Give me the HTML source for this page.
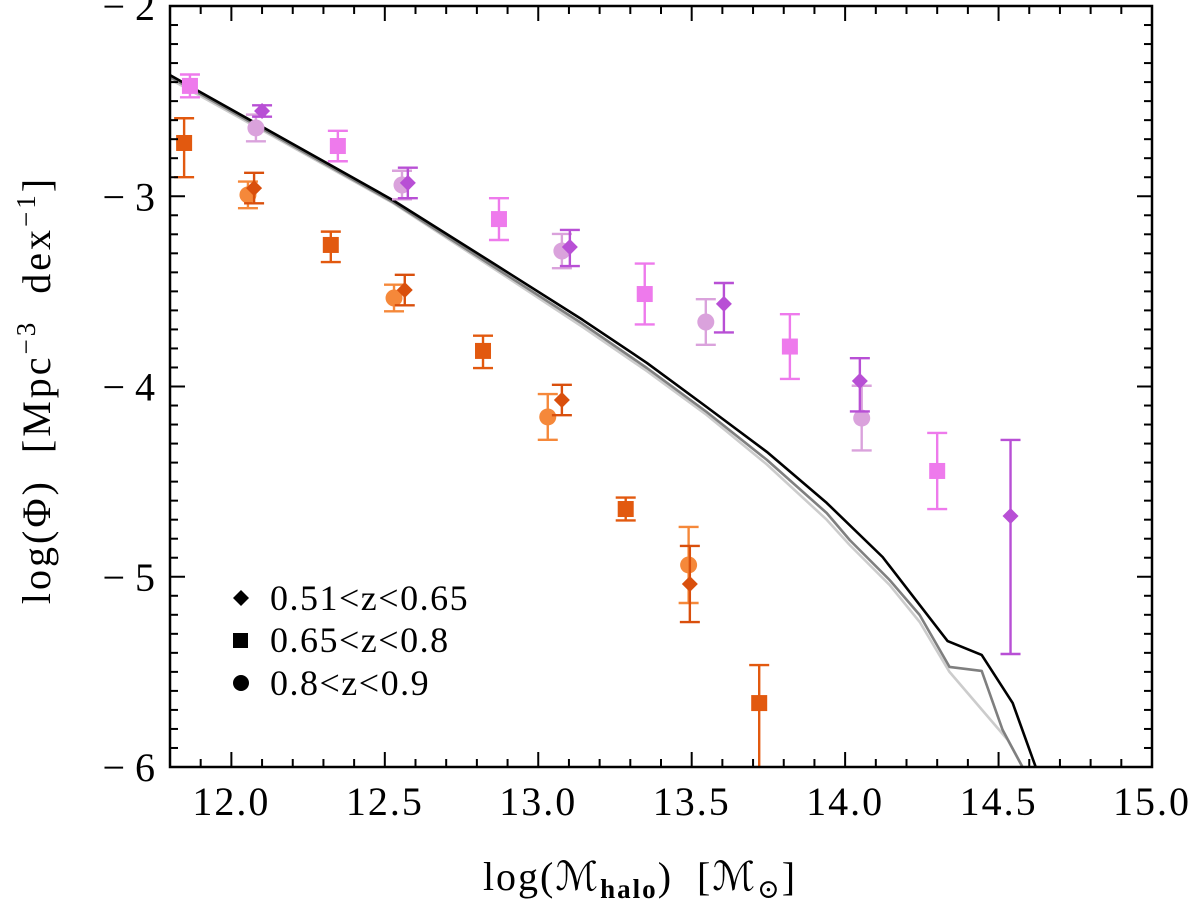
<!DOCTYPE html>
<html><head><meta charset="utf-8"><style>
html,body{margin:0;padding:0;background:#fff;}
svg{display:block;}
text{font-family:"Liberation Serif","DejaVu Serif",serif;fill:#000;}
</style></head><body>
<svg id="chart" width="1200" height="909" viewBox="0 0 1200 909" xmlns="http://www.w3.org/2000/svg">
<defs><clipPath id="plotclip"><rect x="170" y="6" width="980" height="761"/></clipPath></defs>
<g id="lines" clip-path="url(#plotclip)"></g>
<g id="points"></g>
<g id="axes"></g>
<text x="640" y="890" text-anchor="middle" font-size="40" letter-spacing="2" xml:space="preserve">log(ℳ<tspan font-size="27" dy="8" font-weight="bold">halo</tspan><tspan dy="-8">)  [ℳ</tspan><tspan font-size="27" dy="8">⊙</tspan><tspan dy="-8">]</tspan></text>
<text transform="translate(50,390) rotate(-90)" text-anchor="middle" font-size="40" letter-spacing="3" xml:space="preserve">log(Φ)  [Mpc<tspan font-size="27" dy="-15">−3</tspan><tspan dy="15">  dex</tspan><tspan font-size="27" dy="-15">−1</tspan><tspan dy="15">]</tspan></text>
<g><polygon points="241,590 249,598 241,606 233,598" fill="#000"/><text x="270" y="610" font-size="36" letter-spacing="1.5">0.51&lt;z&lt;0.65</text></g>
<g><rect x="233" y="633" width="15" height="15" fill="#000"/><text x="270" y="652" font-size="36" letter-spacing="1.5">0.65&lt;z&lt;0.8</text></g>
<g><circle cx="241" cy="683" r="8" fill="#000"/><text x="270" y="695" font-size="36" letter-spacing="1.5">0.8&lt;z&lt;0.9</text></g>
</svg>
<script>
// ---- data ----
const xTicks = [12.0, 12.5, 13.0, 13.5, 14.0, 14.5, 15.0];
const xTickLabels = ["12.0","12.5","13.0","13.5","14.0","14.5","15.0"];
const yTicks = [-2, -3, -4, -5, -6];
const yTickLabels = ["\u2212 2","\u2212 3","\u2212 4","\u2212 5","\u2212 6"];

const blackX = [11.8,12.526,12.852,13.145,13.354,13.549,13.745,13.94,14.122,14.334,14.445,14.546,14.621];
const blackY = [-2.363,-3.02,-3.351,-3.65,-3.876,-4.108,-4.344,-4.612,-4.896,-5.338,-5.411,-5.664,-6.0];
const grayX = [11.8,12.526,12.852,13.145,13.354,13.549,13.745,13.94,14.015,14.145,14.243,14.34,14.445,14.513,14.578];
const grayY = [-2.373,-3.03,-3.367,-3.671,-3.903,-4.134,-4.386,-4.665,-4.807,-5.017,-5.201,-5.474,-5.495,-5.805,-6.0];
const lightX = [11.8,12.526,12.852,13.145,13.354,13.549,13.745,13.94,14.015,14.145,14.243,14.34,14.53,14.578];
const lightY = [-2.384,-3.035,-3.377,-3.687,-3.919,-4.15,-4.41,-4.70,-4.833,-5.043,-5.238,-5.50,-5.858,-6.0];

const pSqX = [11.865,12.347,12.872,13.347,13.82,14.30];
const pSqY = [-2.42,-2.736,-3.12,-3.514,-3.79,-4.444];
const pSqErr = [0.06,0.08,0.11,0.16,0.17,0.2];
const pDiX = [12.10,12.575,13.103,13.605,14.048,14.539];
const pDiY = [-2.552,-2.93,-3.267,-3.566,-3.971,-4.681];
const pDiErrUp = [0.03,0.08,0.09,0.11,0.12,0.40];
const pDiErrDn = [0.03,0.08,0.10,0.15,0.16,0.725];
const pCiX = [12.08,12.556,13.077,13.546,14.054];
const pCiY = [-2.641,-2.941,-3.288,-3.661,-4.166];
const pCiErr = [0.07,0.075,0.09,0.12,0.17];
const oSqX = [11.846,12.324,12.82,13.285,13.72];
const oSqY = [-2.72,-3.256,-3.813,-4.644,-5.664];
const oSqErrUp = [0.13,0.07,0.08,0.06,0.2];
const oSqErrDn = [0.18,0.09,0.09,0.06,0.4];
const oDiX = [12.074,12.565,13.077,13.494];
const oDiY = [-2.957,-3.493,-4.071,-5.038];
const oDiErr = [0.08,0.08,0.08,0.2];
const oCiX = [12.054,12.53,13.031,13.49];
const oCiY = [-2.993,-3.535,-4.16,-4.938];
const oCiErr = [0.07,0.07,0.12,0.2];

// ---- axis functions ----
const X0=170, X1=1152, Y0=6, Y1=767;
const xmin=11.8, xmax=15.0, ymin=-6, ymax=-2;
function sx(v){return X0+(v-xmin)/(xmax-xmin)*(X1-X0);}
function sy(v){return Y0+(ymax-v)/(ymax-ymin)*(Y1-Y0);}
const NS="http://www.w3.org/2000/svg";
function mk(tag,attrs,parent){const e=document.createElementNS(NS,tag);for(const k in attrs)e.setAttribute(k,attrs[k]);parent.appendChild(e);return e;}

const gL=document.getElementById('lines');
function drawLine(xs,ys,color,name){
  const d=xs.map((x,i)=>(i?'L':'M')+sx(x).toFixed(1)+','+sy(ys[i]).toFixed(1)).join(' ');
  const p=mk('path',{d:d,fill:'none',stroke:color,'stroke-width':2.6,'stroke-linejoin':'round'},gL);
  
  
}
drawLine(lightX,lightY,'#cccccc','model-line-light');
drawLine(grayX,grayY,'#7f7f7f','model-line-gray');
drawLine(blackX,blackY,'#000000','model-line-black');

const gP=document.getElementById('points');
function marker(shape,cx,cy,color,parent){
  if(shape==='sq') return mk('rect',{x:cx-8,y:cy-8,width:16,height:16,fill:color},parent);
  if(shape==='ci') return mk('circle',{cx:cx,cy:cy,r:8.5,fill:color},parent);
  return mk('polygon',{points:`${cx},${cy-8} ${cx+8},${cy} ${cx},${cy+8} ${cx-8},${cy}`,fill:color},parent);
}
function drawSeries(xs,ys,up,dn,shape,color,name){
  xs.forEach((x,i)=>{
    const g=mk('g',{},gP);
    
    
    const cx=sx(x), cy=sy(ys[i]);
    const yt=sy(ys[i]+up[i]), yb=Math.min(sy(ys[i]-dn[i]),Y1);
    mk('line',{x1:cx,y1:yt,x2:cx,y2:yb,stroke:color,'stroke-width':2.4},g);
    mk('line',{x1:cx-10,y1:yt,x2:cx+10,y2:yt,stroke:color,'stroke-width':2.4},g);
    if(sy(ys[i]-dn[i])<Y1) mk('line',{x1:cx-10,y1:yb,x2:cx+10,y2:yb,stroke:color,'stroke-width':2.4},g);
    marker(shape,cx,cy,color,g);
  });
}
drawSeries(oSqX,oSqY,oSqErrUp,oSqErrDn,'sq','#e2590f','orange-square');
drawSeries(oCiX,oCiY,oCiErr,oCiErr,'ci','#f5883a','orange-circle');
drawSeries(oDiX,oDiY,oDiErr,oDiErr,'di','#d94f0c','orange-diamond');
drawSeries(pSqX,pSqY,pSqErr,pSqErr,'sq','#ee7aec','pink-square');
drawSeries(pCiX,pCiY,pCiErr,pCiErr,'ci','#daa2dc','lilac-circle');
drawSeries(pDiX,pDiY,pDiErrUp,pDiErrDn,'di','#b84fd5','purple-diamond');

const gA=document.getElementById('axes');
const frame=mk('rect',{x:X0,y:Y0,width:X1-X0,height:Y1-Y0,fill:'none',stroke:'#000','stroke-width':2.5},gA);


for(let k=0;k<=32;k++){
  const v=11.8+k*0.1; const px=sx(v);
  const major=Math.abs(v*2-Math.round(v*2))<1e-6; const L=major?15:8;
  mk('line',{x1:px,y1:Y1,x2:px,y2:Y1-L,stroke:'#000','stroke-width':2},gA);
  mk('line',{x1:px,y1:Y0,x2:px,y2:Y0+L,stroke:'#000','stroke-width':2},gA);
}
for(let k=0;k<=40;k++){
  const v=-6+k*0.1; const py=sy(v);
  const major=Math.abs(v-Math.round(v))<1e-6; const L=major?15:8;
  mk('line',{x1:X0,y1:py,x2:X0+L,y2:py,stroke:'#000','stroke-width':2},gA);
  mk('line',{x1:X1,y1:py,x2:X1-L,y2:py,stroke:'#000','stroke-width':2},gA);
}
xTicks.forEach((v,i)=>{
  const t=mk('text',{x:sx(v),y:815,'text-anchor':'middle','font-size':40,'letter-spacing':2},gA);
  t.textContent=xTickLabels[i];
  
  
});
yTicks.forEach((v,i)=>{
  const t=mk('text',{x:155,y:sy(v)+14,'text-anchor':'end','font-size':40},gA);
  t.textContent=yTickLabels[i];
  
  
});
</script>
</body></html>
